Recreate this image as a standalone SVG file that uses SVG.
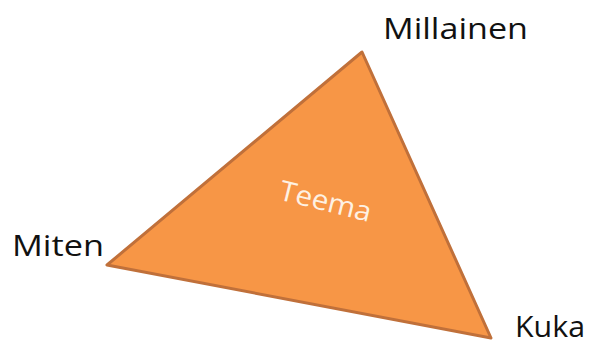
<svg xmlns="http://www.w3.org/2000/svg" width="591" height="345" viewBox="0 0 591 345">
<style>
.lbl{font-family:"Open Sans","Liberation Sans",sans-serif;font-size:29px;fill:#111}
</style>
<rect width="591" height="345" fill="#fff"/>
<g id="triangle">
<polygon points="362,52 107,265 491,338" fill="#F79646" stroke="#C0703A" stroke-width="3" stroke-linejoin="round"/>
<text x="326" y="211" transform="rotate(14 326 200)" text-anchor="middle" font-family="'Open Sans','Liberation Sans',sans-serif" font-size="28" textLength="94" lengthAdjust="spacingAndGlyphs" fill="#FEF1E3">Teema</text>
</g>
<g id="millainen"><text class="lbl" x="383" y="39" textLength="145" lengthAdjust="spacingAndGlyphs">Millainen</text></g>
<g id="miten"><text class="lbl" x="12" y="256" textLength="92" lengthAdjust="spacingAndGlyphs">Miten</text></g>
<g id="kuka"><text class="lbl" x="515" y="337" textLength="70" lengthAdjust="spacingAndGlyphs">Kuka</text></g>
</svg>
